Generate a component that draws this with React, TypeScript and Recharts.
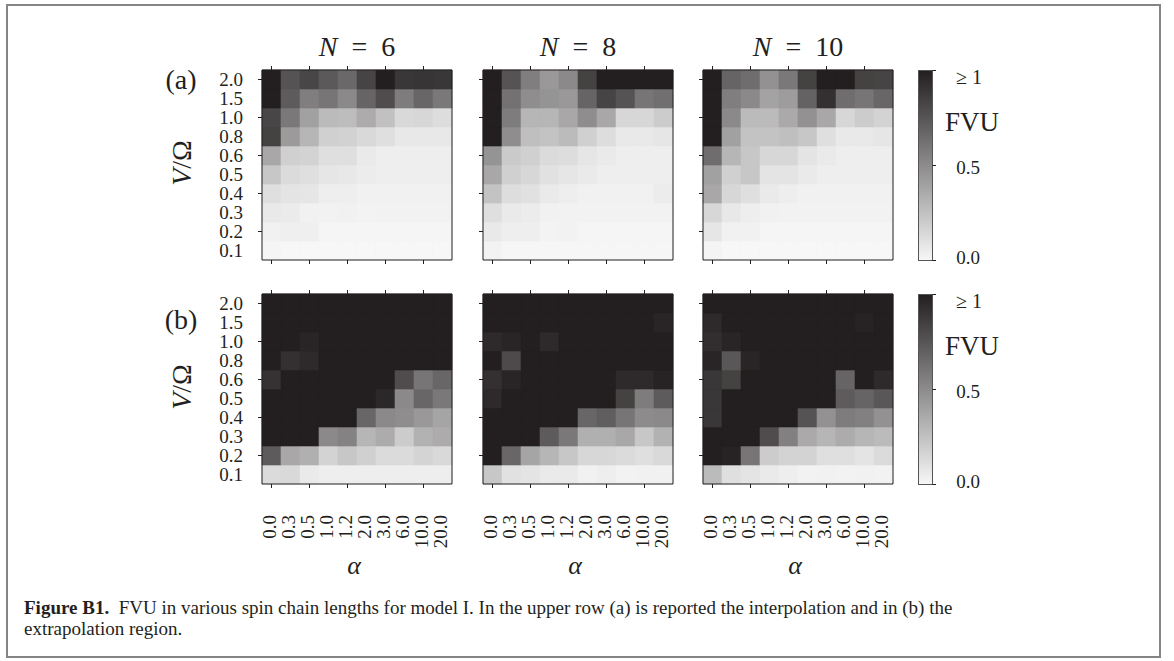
import { BarChart, Bar, Cell, XAxis, YAxis } from 'recharts'

const alphas = ['0.0', '0.3', '0.5', '1.0', '1.2', '2.0', '3.0', '6.0', '10.0', '20.0']
// V/Omega rows, listed top to bottom as in the picture
const vRatios = ['2.0', '1.5', '1.0', '0.8', '0.6', '0.5', '0.4', '0.3', '0.2', '0.1']
const chainLengths = [6, 8, 10]

const interpN6 = [
  [1.0, 0.76, 0.82, 0.73, 0.66, 0.83, 1.0, 0.89, 0.9, 0.89],
  [1.0, 0.72, 0.56, 0.6, 0.51, 0.68, 0.79, 0.57, 0.67, 0.59],
  [0.82, 0.59, 0.4, 0.28, 0.27, 0.35, 0.25, 0.14, 0.15, 0.12],
  [0.84, 0.43, 0.3, 0.18, 0.17, 0.14, 0.11, 0.07, 0.07, 0.07],
  [0.37, 0.18, 0.165, 0.11, 0.11, 0.06, 0.04, 0.04, 0.04, 0.04],
  [0.22, 0.13, 0.11, 0.08, 0.07, 0.05, 0.04, 0.04, 0.04, 0.04],
  [0.11, 0.09, 0.08, 0.04, 0.04, 0.03, 0.03, 0.03, 0.03, 0.03],
  [0.065, 0.055, 0.03, 0.025, 0.03, 0.02, 0.025, 0.025, 0.025, 0.025],
  [0.03, 0.035, 0.035, 0.01, 0.01, 0.01, 0.01, 0.01, 0.01, 0.01],
  [0.01, 0, 0, 0, 0, 0, 0, 0, 0, 0],
]
const interpN8 = [
  [1.0, 0.76, 0.56, 0.44, 0.51, 0.84, 1.0, 1.0, 1.0, 1.0],
  [1.0, 0.62, 0.49, 0.46, 0.44, 0.68, 0.83, 0.76, 0.6, 0.63],
  [1.0, 0.57, 0.3, 0.3, 0.37, 0.49, 0.37, 0.15, 0.15, 0.2],
  [1.0, 0.49, 0.26, 0.24, 0.28, 0.18, 0.12, 0.065, 0.065, 0.08],
  [0.46, 0.21, 0.18, 0.13, 0.12, 0.08, 0.06, 0.04, 0.04, 0.04],
  [0.37, 0.18, 0.15, 0.1, 0.08, 0.06, 0.04, 0.04, 0.04, 0.04],
  [0.24, 0.12, 0.1, 0.06, 0.04, 0.03, 0.03, 0.03, 0.03, 0.05],
  [0.11, 0.06, 0.05, 0.03, 0.025, 0.025, 0.025, 0.025, 0.025, 0.025],
  [0.065, 0.04, 0.04, 0.02, 0.025, 0.01, 0.01, 0.01, 0.01, 0.01],
  [0.02, 0.005, 0.005, 0.005, 0.005, 0.005, 0.005, 0.005, 0.005, 0.005],
]
const interpN10 = [
  [1.0, 0.68, 0.64, 0.47, 0.59, 0.84, 1.0, 1.0, 0.84, 0.83],
  [1.0, 0.56, 0.51, 0.39, 0.42, 0.69, 0.92, 0.64, 0.6, 0.67],
  [1.0, 0.51, 0.28, 0.28, 0.36, 0.47, 0.37, 0.15, 0.2, 0.165],
  [1.0, 0.4, 0.24, 0.24, 0.26, 0.22, 0.11, 0.065, 0.065, 0.08],
  [0.64, 0.3, 0.22, 0.15, 0.15, 0.09, 0.06, 0.04, 0.04, 0.04],
  [0.4, 0.18, 0.22, 0.09, 0.09, 0.06, 0.04, 0.04, 0.04, 0.04],
  [0.37, 0.15, 0.11, 0.06, 0.04, 0.03, 0.03, 0.03, 0.03, 0.03],
  [0.15, 0.07, 0.04, 0.03, 0.025, 0.025, 0.025, 0.025, 0.025, 0.025],
  [0.08, 0.03, 0.03, 0.01, 0.01, 0.01, 0.01, 0.01, 0.01, 0.01],
  [0.015, 0, 0, 0, 0, 0, 0, 0, 0, 0],
]
const extrapN6 = [
  [1, 1, 1, 1, 1, 1, 1, 1, 1, 1],
  [1, 1, 1, 1, 1, 1, 1, 1, 1, 1],
  [1, 1, 0.97, 1, 1, 1, 1, 1, 1, 1],
  [1, 0.92, 0.95, 1, 1, 1, 1, 1, 1, 1],
  [0.91, 1, 1, 1, 1, 1, 1, 0.79, 0.6, 0.67],
  [1, 1, 1, 1, 1, 1, 0.96, 0.51, 0.67, 0.59],
  [1, 1, 1, 1, 1, 0.67, 0.51, 0.49, 0.44, 0.38],
  [1, 1, 1, 0.51, 0.54, 0.3, 0.35, 0.2, 0.32, 0.35],
  [0.72, 0.37, 0.33, 0.165, 0.22, 0.18, 0.13, 0.13, 0.16, 0.14],
  [0.13, 0.14, 0.06, 0.04, 0.04, 0.04, 0.04, 0.04, 0.04, 0.04],
]
const extrapN8 = [
  [1, 1, 1, 1, 1, 1, 1, 1, 1, 1],
  [1, 1, 1, 1, 1, 1, 1, 1, 1, 0.97],
  [0.95, 0.97, 1, 0.95, 1, 1, 1, 1, 1, 1],
  [1, 0.8, 1, 1, 1, 1, 1, 1, 1, 1],
  [0.92, 0.97, 1, 1, 1, 1, 1, 0.95, 0.95, 0.98],
  [0.95, 1, 1, 1, 1, 1, 1, 0.84, 0.57, 0.72],
  [1, 1, 1, 1, 1, 0.67, 0.71, 0.6, 0.5, 0.51],
  [1, 1, 1, 0.72, 0.59, 0.33, 0.33, 0.37, 0.22, 0.32],
  [1, 0.67, 0.38, 0.3, 0.22, 0.15, 0.15, 0.13, 0.11, 0.14],
  [0.22, 0.1, 0.09, 0.06, 0.06, 0.03, 0.04, 0.025, 0.03, 0.03],
]
const extrapN10 = [
  [1, 1, 1, 1, 1, 1, 1, 1, 1, 1],
  [0.95, 1, 1, 1, 1, 1, 1, 1, 0.98, 1],
  [0.93, 0.97, 1, 1, 1, 1, 1, 1, 1, 1],
  [0.97, 0.74, 0.97, 1, 1, 1, 1, 1, 1, 1],
  [0.89, 0.84, 1, 1, 1, 1, 1, 0.68, 1, 0.95],
  [0.89, 1, 1, 1, 1, 1, 1, 0.72, 0.68, 0.74],
  [0.89, 1, 1, 1, 1, 0.76, 0.47, 0.57, 0.55, 0.47],
  [1, 1, 1, 0.79, 0.55, 0.36, 0.3, 0.35, 0.3, 0.28],
  [1, 0.98, 0.6, 0.2, 0.165, 0.165, 0.11, 0.11, 0.09, 0.13],
  [0.28, 0.11, 0.09, 0.06, 0.04, 0.025, 0.03, 0.025, 0.03, 0.025],
]

const rowsA = [interpN6, interpN8, interpN10]
const rowsB = [extrapN6, extrapN8, extrapN10]

const LO = [247, 247, 247]
const HI = [35, 31, 32]
const INK = '#231f20'
const FONT = '"Liberation Serif", "DejaVu Serif", serif'

function grey(v: number) {
  const t = Math.max(0, Math.min(1, v))
  const c = LO.map((l, i) => Math.round(l + (HI[i] - l) * t))
  return `rgb(${c[0]},${c[1]},${c[2]})`
}

const stackKeys = vRatios.map((_, k) => `s${k}`) // s0 = bottom row (0.1)

const tableRows = alphas.map((a) => {
  const row: Record<string, string | number> = { alpha: a }
  stackKeys.forEach((key) => (row[key] = 1))
  return row
})

const CELL = 190
const YW = 70
const TH = 8
const PANEL_X = [262, 483, 703]

function Heatmap({ values, left, top, yLabels, xLabels }: {
  values: number[][]
  left: number
  top: number
  yLabels: boolean
  xLabels: boolean
}) {
  const bh = xLabels ? 80 : 8
  const leftTick = (p: any) => {
    const k = Math.floor(p.payload.value)
    return (
      <g>
        {k % 2 === 1 && <line x1={p.x - 4} x2={p.x} y1={p.y} y2={p.y} stroke={INK} />}
        {yLabels && (
          <text x={p.x - 19} y={p.y} textAnchor="end" dominantBaseline="central" fontSize={19} fill={INK} fontFamily={FONT}>
            {vRatios[9 - k]}
          </text>
        )}
      </g>
    )
  }
  const topTick = (p: any) =>
    p.index % 2 === 0 ? <line x1={p.x} x2={p.x} y1={p.y - 4} y2={p.y} stroke={INK} /> : <g />
  const bottomTick = (p: any) => (
    <g>
      {p.index % 2 === 0 && <line x1={p.x} x2={p.x} y1={p.y} y2={p.y + 4} stroke={INK} />}
      {xLabels && (
        <text
          x={p.x - 2}
          y={p.y + 31}
          transform={`rotate(-90, ${p.x - 2}, ${p.y + 31})`}
          textAnchor="end"
          dominantBaseline="central"
          fontSize={19}
          fill={INK}
          fontFamily={FONT}
        >
          {p.payload.value}
        </text>
      )}
    </g>
  )

  return (
    <div style={{ position: 'absolute', left: left - YW, top: top - TH }}>
      <BarChart
        width={YW + CELL + 1}
        height={TH + CELL + bh}
        data={tableRows}
        margin={{ top: 0, right: 0, bottom: 0, left: 0 }}
        barCategoryGap={0}
        barGap={0}
      >
        <XAxis xAxisId="t" dataKey="alpha" orientation="top" height={TH} tickSize={0} tickMargin={0} tickLine={false} axisLine={{ stroke: INK }} tick={topTick} interval={0} />
        <XAxis xAxisId="b" dataKey="alpha" height={bh} tickSize={0} tickMargin={0} tickLine={false} axisLine={{ stroke: INK }} tick={bottomTick} interval={0} />
        <YAxis
          yAxisId="l"
          type="number"
          domain={[0, 10]}
          ticks={[0.5, 1.5, 2.5, 3.5, 4.5, 5.5, 6.5, 7.5, 8.5, 9.5]}
          width={YW}
          tickSize={0}
          tickMargin={0}
          tickLine={false}
          axisLine={{ stroke: INK }}
          tick={leftTick}
          interval={0}
        />
        <YAxis yAxisId="r" orientation="right" type="number" domain={[0, 10]} ticks={[]} width={1} tick={false} tickLine={false} axisLine={{ stroke: INK }} />
        {stackKeys.map((key, k) => (
          <Bar key={key} dataKey={key} stackId="cells" xAxisId="b" yAxisId="l" isAnimationActive={false}>
            {alphas.map((a, c) => {
              const fill = grey(values[9 - k][c])
              return <Cell key={a} fill={fill} stroke={fill} strokeWidth={0.6} />
            })}
          </Bar>
        ))}
      </BarChart>
    </div>
  )
}

function Colorbar({ top, id }: { top: number; id: string }) {
  return (
    <svg style={{ position: 'absolute', left: 914, top: top - 4 }} width={30} height={CELL + 8}>
      <defs>
        <linearGradient id={id} x1="0" y1="0" x2="0" y2="1">
          <stop offset="0%" stopColor={grey(1)} />
          <stop offset="100%" stopColor={grey(0)} />
        </linearGradient>
      </defs>
      <rect x={4.5} y={4.5} width={14} height={CELL} fill={`url(#${id})`} stroke="#555" strokeWidth={1} />
      {[0, 0.5, 1].map((t) => (
        <line key={t} x1={18.5} x2={22} y1={4.5 + CELL * (1 - t)} y2={4.5 + CELL * (1 - t)} stroke={INK} />
      ))}
    </svg>
  )
}

function Txt({ x, y, size, children, italic, rotate }: any) {
  return (
    <div
      style={{
        position: 'absolute',
        left: x,
        top: y,
        transform: `translate(-50%, -50%)${rotate ? ` rotate(${rotate}deg)` : ''}`,
        fontSize: size,
        fontStyle: italic ? 'italic' : 'normal',
        fontFamily: FONT,
        color: INK,
        whiteSpace: 'pre',
        lineHeight: 1,
      }}
    >
      {children}
    </div>
  )
}

export default function App() {
  return (
    <div style={{ position: 'absolute', left: 0, top: 0, width: 1174, height: 661, background: '#fff', overflow: 'hidden' }}>
      <div style={{ position: 'absolute', left: 6, top: 4, width: 1151, height: 650, border: '2px solid #858585' }} />

      {chainLengths.map((n, i) => (
        <Txt key={n} x={PANEL_X[i] + CELL / 2} y={47} size={28}>
          <i>N</i>{'  =  '}{n}
        </Txt>
      ))}

      {rowsA.map((v, i) => (
        <Heatmap key={`a${i}`} values={v} left={PANEL_X[i]} top={70} yLabels={i === 0} xLabels={false} />
      ))}
      {rowsB.map((v, i) => (
        <Heatmap key={`b${i}`} values={v} left={PANEL_X[i]} top={294} yLabels={i === 0} xLabels={true} />
      ))}

      <Txt x={181} y={80} size={28}>(a)</Txt>
      <Txt x={181} y={320} size={28}>(b)</Txt>
      <Txt x={182} y={163} size={28} rotate={-90}><i>V</i>/Ω</Txt>
      <Txt x={182} y={387} size={28} rotate={-90}><i>V</i>/Ω</Txt>

      {PANEL_X.map((x) => (
        <Txt key={x} x={x + CELL / 2 - 3} y={566} size={26} italic>α</Txt>
      ))}

      <Colorbar top={70} id="cbA" />
      <Colorbar top={294} id="cbB" />
      {[70, 294].map((t) => (
        <div key={t}>
          <Txt x={969} y={t + 7} size={20}>{'≥ 1'}</Txt>
          <Txt x={972} y={t + 52} size={27}>FVU</Txt>
          <Txt x={968} y={t + 97} size={19}>0.5</Txt>
          <Txt x={968} y={t + 187} size={19}>0.0</Txt>
        </div>
      ))}

      <div style={{ position: 'absolute', left: 24, top: 597, fontFamily: FONT, fontSize: 19, color: INK, lineHeight: '21px', whiteSpace: 'pre' }}>
        <div><b>Figure B1.</b>{'  FVU in various spin chain lengths for model I. In the upper row (a) is reported the interpolation and in (b) the'}</div>
        <div>extrapolation region.</div>
      </div>
    </div>
  )
}
